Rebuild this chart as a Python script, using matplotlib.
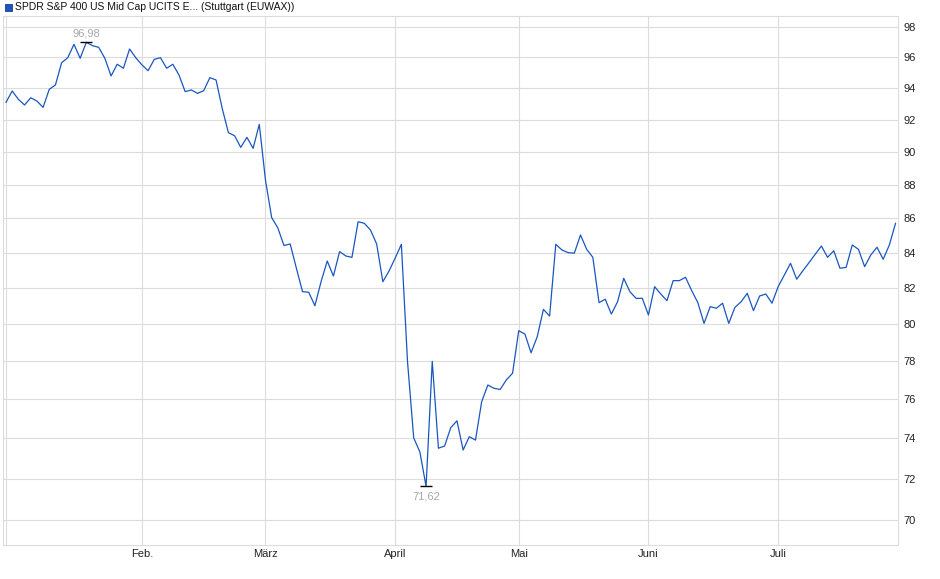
import numpy as np
import pandas as pd
import matplotlib
matplotlib.use("Agg")
import matplotlib.pyplot as plt
from matplotlib.ticker import FixedLocator, NullLocator, FixedFormatter

plt.rcParams['font.family'] = ['Liberation Sans', 'DejaVu Sans']

title = "SPDR S&P 400 US Mid Cap UCITS E... (Stuttgart (EUWAX))"
holidays = ["2025-01-01", "2025-04-18", "2025-04-21", "2025-05-01"]
month_names = ["", "Feb.", "März", "April", "Mai", "Juni", "Juli"]
y_ticks = [70, 72, 74, 76, 78, 80, 82, 84, 86, 88, 90, 92, 94, 96, 98]

# closing prices, one per trading day from 2 Jan 2025
values = [
    93.09, 93.81, 93.28, 92.92, 93.38, 93.17, 92.77, 93.92, 94.20, 95.64,
    95.97, 96.85, 95.93, 96.98, 96.76, 96.65, 95.93, 94.78, 95.54, 95.28,
    96.54, 95.97, 95.50, 95.12, 95.86, 95.97, 95.28, 95.54, 94.84, 93.77,
    93.88, 93.66, 93.83, 94.67, 94.52, 92.70, 91.18, 90.99, 90.27, 90.89,
    90.21, 91.70, 88.28, 86.05, 85.44, 84.42, 84.51, 83.13, 81.80, 81.77,
    81.02, 82.36, 83.53, 82.68, 84.07, 83.82, 83.74, 85.80, 85.71, 85.32,
    84.51, 82.36, 82.96, 83.70, 84.49, 77.97, 74.03, 73.32, 71.62, 78.00,
    73.51, 73.62, 74.55, 74.90, 73.42, 74.09, 73.92, 75.88, 76.75, 76.58,
    76.52, 77.02, 77.37, 79.65, 79.47, 78.46, 79.33, 80.82, 80.45, 84.49,
    84.16, 84.01, 83.98, 85.03, 84.20, 83.74, 81.19, 81.38, 80.56, 81.24,
    82.55, 81.80, 81.43, 81.43, 80.51, 82.08, 81.67, 81.30, 82.42, 82.42,
    82.61, 81.86, 81.19, 80.05, 80.97, 80.88, 81.16, 80.05, 80.93, 81.24,
    81.71, 80.75, 81.56, 81.67, 81.16, 82.08, 82.74, 83.40, 82.50, 82.98,
    83.44, 83.92, 84.39, 83.74, 84.12, 83.12, 83.17, 84.45, 84.20, 83.21,
    83.88, 84.32, 83.63, 84.45, 85.71,
]

bday = pd.offsets.CustomBusinessDay(holidays=holidays)
dates = pd.date_range("2025-01-02", periods=len(values), freq=bday)
x = np.arange(len(values))
vals = np.array(values)

# first trading day of each month -> tick position
months = dates.to_period("M")
month_starts = [i for i in range(len(dates)) if i == 0 or months[i] != months[i - 1]]

fig = plt.figure(figsize=(9.4, 5.79), dpi=100)
ax = fig.add_axes([3 / 940, 1 - 545 / 579, 895 / 940, 529 / 579])

grid_col = "#dcdcdc"
ax.plot(x, vals, color="#1a56c0", lw=0.9, zorder=3)

ax.set_yscale("log")
ax.set_ylim(68.81, 98.74)
ax.set_xlim(-0.49, 144.4)
ax.yaxis.set_major_locator(FixedLocator(y_ticks))
ax.yaxis.set_minor_locator(NullLocator())
ax.yaxis.set_major_formatter(FixedFormatter([str(t) for t in y_ticks]))
ax.yaxis.tick_right()
ax.set_xticks(month_starts)
ax.set_xticklabels(month_names)
ax.xaxis.set_minor_locator(NullLocator())

ax.grid(True, color=grid_col, lw=0.8)
ax.set_axisbelow(True)
ax.tick_params(axis="both", length=0, labelsize=8, colors="#222222")
ax.tick_params(axis="y", pad=4)
ax.tick_params(axis="x", pad=3)
for s in ax.spines.values():
    s.set_color(grid_col)
    s.set_linewidth(0.8)

# high / low markers
imax, imin = int(vals.argmax()), int(vals.argmin())
for i, va, dy in [(imax, "bottom", 3), (imin, "top", -4)]:
    ax.plot([i], [vals[i]], marker="_", ms=8, mew=1.0, color="black", zorder=4)
    ax.annotate(f"{vals[i]:.2f}".replace(".", ","), (i, vals[i]),
                xytext=(0, dy), textcoords="offset points",
                ha="center", va=va, fontsize=8, color="#a8a8a8")

# legend-like title
fig.patches.append(plt.Rectangle((5 / 940, 1 - 11 / 579), 7 / 940, 7 / 579,
                                 transform=fig.transFigure, facecolor="#1a56c0",
                                 edgecolor="#1a3f8a", lw=0.6))
fig.text(15 / 940, 1 - 7.5 / 579, title, fontsize=7.5, va="center", ha="left",
         color="#111111")

fig.savefig("out.png", dpi=100)
